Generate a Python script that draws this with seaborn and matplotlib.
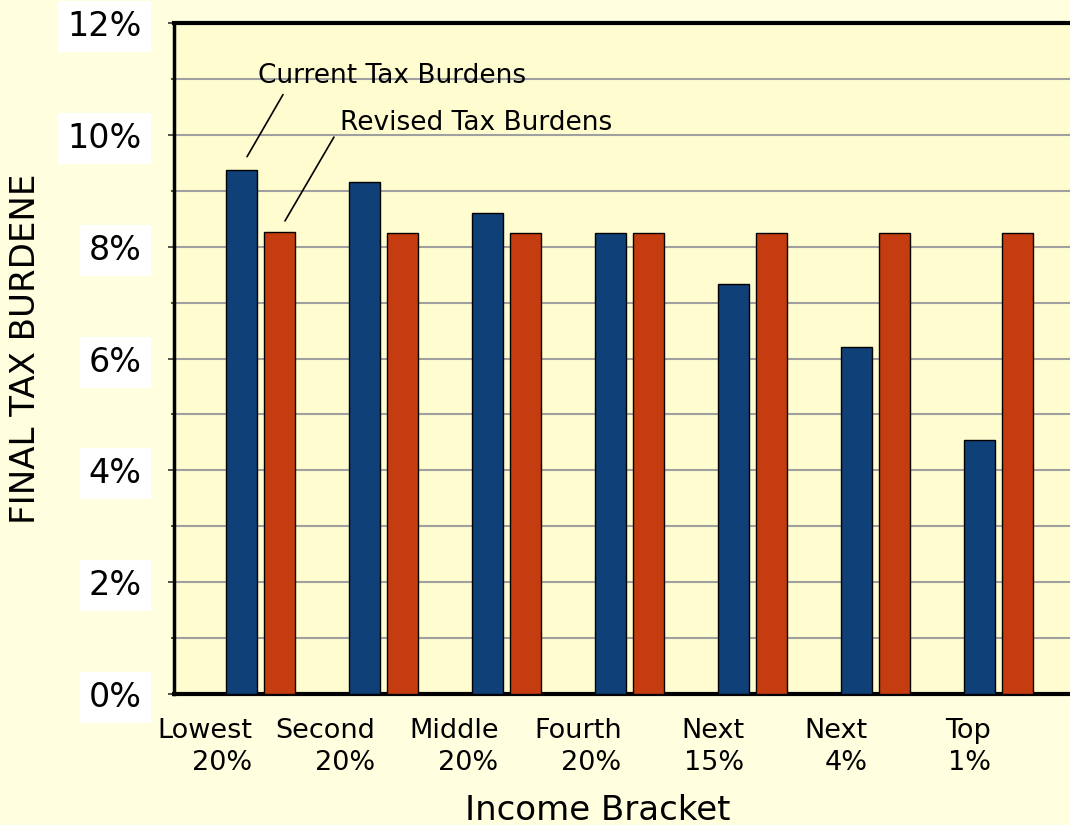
import numpy as np
import pandas as pd
import matplotlib
matplotlib.use("Agg")
import matplotlib.pyplot as plt
import matplotlib.transforms as mtransforms
from matplotlib.ticker import FixedLocator
import seaborn as sns

# ---- data ----
brackets = ["Lowest\n20%", "Second\n20%", "Middle\n20%", "Fourth\n20%",
            "Next\n15%", "Next\n4%", "Top\n1%"]
current = [9.37, 9.16, 8.60, 8.25, 7.33, 6.20, 4.54]
revised = [8.27, 8.25, 8.25, 8.25, 8.25, 8.25, 8.25]
series_names = ["Current Tax Burdens", "Revised Tax Burdens"]
y_ticks = [0, 2, 4, 6, 8, 10, 12]
y_tick_labels = ["0%", "2%", "4%", "6%", "8%", "10%", "12%"]

df = pd.DataFrame({
    "bracket": brackets * 2,
    "series": [series_names[0]] * len(brackets) + [series_names[1]] * len(brackets),
    "value": current + revised,
})

BLUE = "#0F4078"
RED = "#C53C10"
FIG_BG = "#FFFFDF"
AX_BG = "#FFFCD0"

sns.set_style("white")
plt.rcParams["font.family"] = ["DejaVu Sans"]
plt.rcParams["text.color"] = "black"
plt.rcParams["xtick.color"] = "black"
plt.rcParams["ytick.color"] = "black"
plt.rcParams["axes.labelcolor"] = "black"

fig = plt.figure(figsize=(10.7, 8.25), dpi=100, facecolor=FIG_BG)
ax = fig.add_axes([174 / 1070, 131 / 825, 1 - 174 / 1070, (694 - 23) / 825])
ax.set_facecolor(AX_BG)

sns.barplot(data=df, x="bracket", y="value", hue="series",
            palette=[BLUE, RED], width=0.62, gap=0.18,
            edgecolor="black", linewidth=1.0, legend=False, ax=ax,
            saturation=1, zorder=3)

ax.set_xlim(-0.703, 6.58)
ax.set_ylim(0, 12)

# grid
ax.set_axisbelow(True)
ax.yaxis.set_major_locator(FixedLocator(y_ticks))
ax.yaxis.set_minor_locator(FixedLocator([1, 3, 5, 7, 9, 11]))
ax.yaxis.grid(True, which="both", color="#A0A0A0", linewidth=1.5, zorder=0)
ax.xaxis.grid(False)

ax.set_yticklabels(y_tick_labels)
ax.tick_params(axis="y", which="major", length=4.3, width=1.2, color="#333333",
               pad=19, labelsize=24, left=True, labelcolor="black")
ax.tick_params(axis="y", which="minor", length=2.2, width=1.2, color="#333333",
               left=True)
for lbl in ax.get_yticklabels():
    lbl.set_bbox(dict(boxstyle="square,pad=0.27", facecolor="white",
                      edgecolor="none"))

ax.set_xticks(range(len(brackets)))
ax.set_xticklabels(brackets, ha="right", multialignment="right",
                   linespacing=1.3)
ax.tick_params(axis="x", length=0, pad=17, labelsize=19.5, labelcolor="black")
offset = mtransforms.ScaledTranslation(-0.08, 0, fig.dpi_scale_trans)
for lbl in ax.get_xticklabels():
    lbl.set_transform(lbl.get_transform() + offset)

ax.set_xlabel("")
ax.set_ylabel("")

for side in ["left", "top", "bottom"]:
    ax.spines[side].set_visible(True)
    ax.spines[side].set_color("black")
ax.spines["left"].set_linewidth(2.5)
ax.spines["top"].set_linewidth(3)
ax.spines["bottom"].set_linewidth(3)
ax.spines["right"].set_visible(False)

# axis titles
fig.text(598 / 1070, 5 / 825, "Income Bracket", fontsize=24.5,
         ha="center", va="baseline", color="black")
fig.text(25.5 / 1070, (825 - 349) / 825, "FINAL TAX BURDENE", fontsize=24.5,
         rotation=90, ha="center", va="center", color="black")

# annotations with leader lines
bar_off = 0.154
ax.annotate("", xy=(0 - bar_off + 0.045, current[0] + 0.24),
            xytext=(0.183, 10.72),
            arrowprops=dict(arrowstyle="-", color="black", lw=1.2,
                            shrinkA=0, shrinkB=0), zorder=5)
ax.text(-0.02, 10.93, series_names[0], fontsize=19, ha="left",
        va="baseline", zorder=5, color="black")
ax.annotate("", xy=(0 + bar_off + 0.045, revised[0] + 0.19),
            xytext=(0.597, 9.96),
            arrowprops=dict(arrowstyle="-", color="black", lw=1.2,
                            shrinkA=0, shrinkB=0), zorder=5)
ax.text(0.646, 10.09, series_names[1], fontsize=19, ha="left",
        va="baseline", zorder=5, color="black")

fig.savefig("out.png", dpi=100, facecolor=FIG_BG)
